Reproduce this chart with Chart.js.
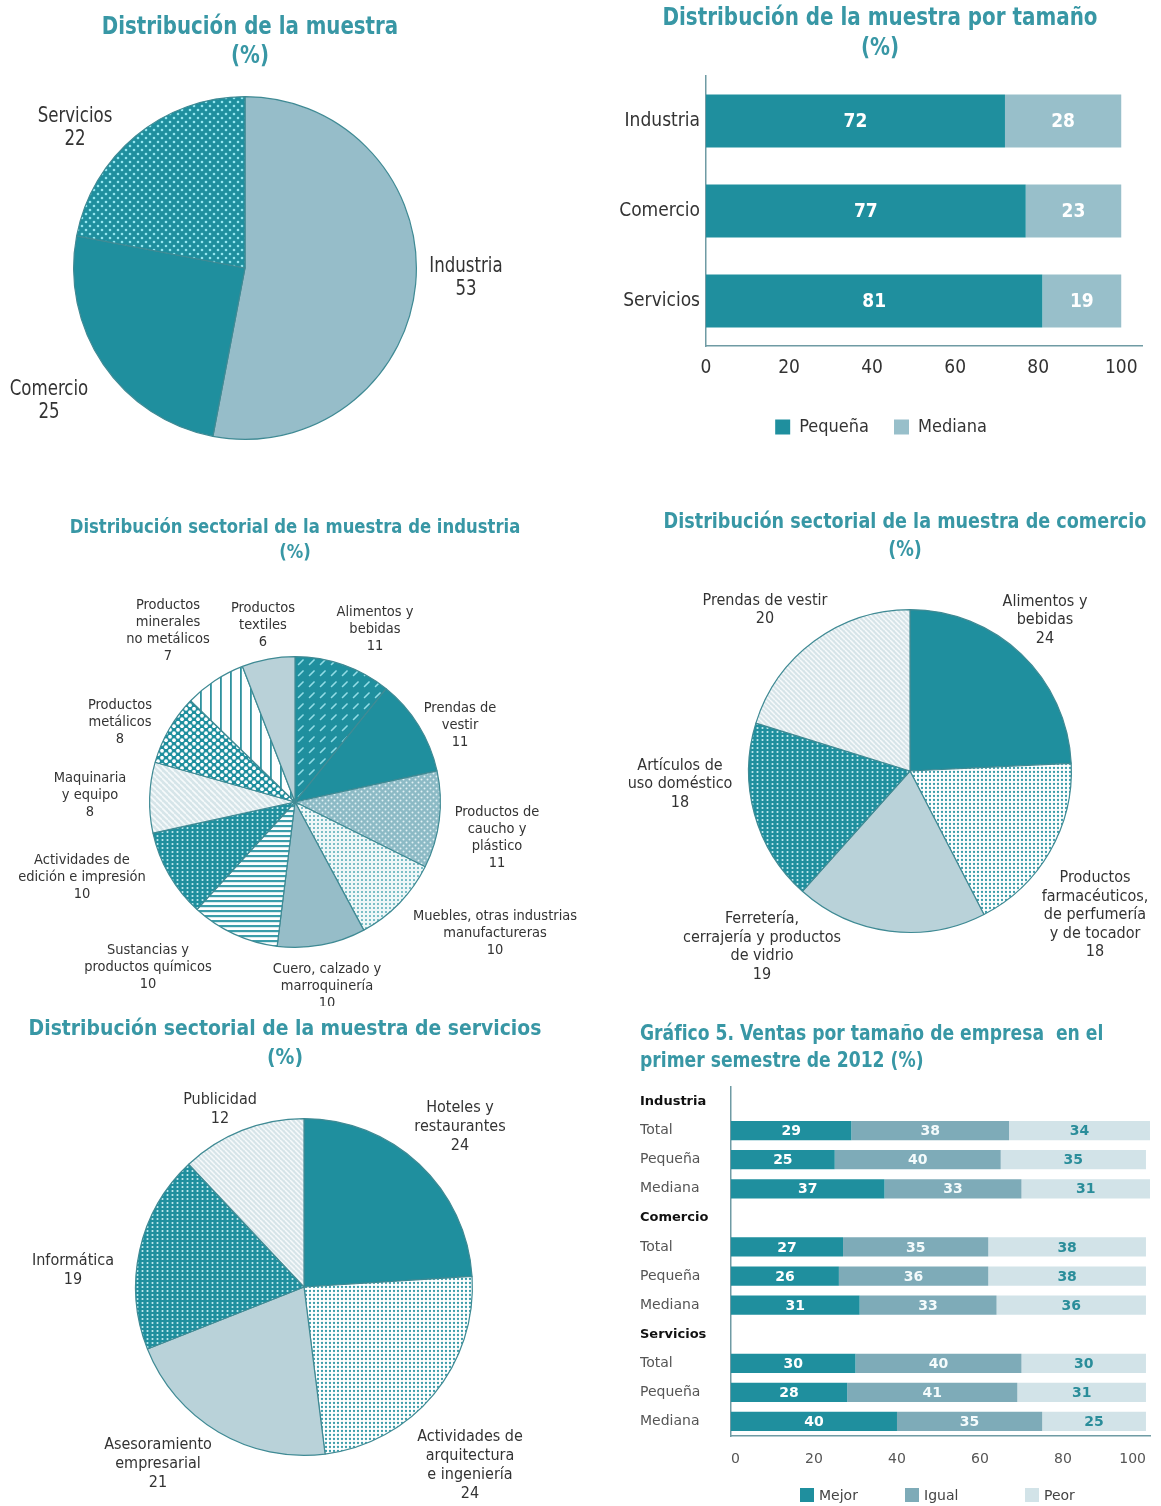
<!DOCTYPE html>
<html lang="es">
<head>
<meta charset="utf-8">
<title>Distribución de la muestra</title>
<script src="https://cdn.jsdelivr.net/npm/chart.js@4/dist/chart.umd.min.js"></script>
<style>
  html, body { margin: 0; padding: 0; background: #ffffff; }
  body { position: relative; width: 1161px; height: 1506px; overflow: hidden; }
  canvas { position: absolute; display: block; }
</style>
</head>
<body>
<canvas id="sample" width="580" height="480" style="left:0;top:0"></canvas>
<canvas id="bySize" width="600" height="460" style="left:600px;top:0"></canvas>
<canvas id="industry" width="590" height="516" style="left:0;top:490px"></canvas>
<canvas id="commerce" width="561" height="510" style="left:600px;top:490px"></canvas>
<canvas id="services" width="590" height="501" style="left:0;top:1005px"></canvas>
<canvas id="sales" width="561" height="510" style="left:600px;top:1005px"></canvas>
<script>
// ---- data ----
const sampleSectors = ['Industria', 'Comercio', 'Servicios'];
const sampleShares = [53, 25, 22];

const sizeSectors = ['Industria', 'Comercio', 'Servicios'];
const sizeSmall = [72, 77, 81];
const sizeMedium = [28, 23, 19];

const industryBranches = [
  'Alimentos y\nbebidas',
  'Prendas de\nvestir',
  'Productos de\ncaucho y\nplástico',
  'Muebles, otras industrias\nmanufactureras',
  'Cuero, calzado y\nmarroquinería',
  'Sustancias y\nproductos químicos',
  'Actividades de\nedición e impresión',
  'Maquinaria\ny equipo',
  'Productos\nmetálicos',
  'Productos\nminerales\nno metálicos',
  'Productos\ntextiles'
];
const industryShares = [11, 11, 11, 10, 10, 10, 10, 8, 8, 7, 6];

const commerceBranches = [
  'Alimentos y\nbebidas',
  'Productos\nfarmacéuticos,\nde perfumería\ny de tocador',
  'Ferretería,\ncerrajería y productos\nde vidrio',
  'Artículos de\nuso doméstico',
  'Prendas de vestir'
];
const commerceShares = [24, 18, 19, 18, 20];

const serviceBranches = [
  'Hoteles y\nrestaurantes',
  'Actividades de\narquitectura\ne ingeniería',
  'Asesoramiento\nempresarial',
  'Informática',
  'Publicidad'
];
const serviceShares = [24, 24, 21, 19, 12];

const salesRows = ['Industria', 'Total', 'Pequeña', 'Mediana',
                   'Comercio', 'Total', 'Pequeña', 'Mediana',
                   'Servicios', 'Total', 'Pequeña', 'Mediana'];
const salesBetter = [null, 29, 25, 37, null, 27, 26, 31, null, 30, 28, 40];
const salesSame   = [null, 38, 40, 33, null, 35, 36, 33, null, 40, 41, 35];
const salesWorse  = [null, 34, 35, 31, null, 38, 38, 36, null, 30, 31, 25];

// ---- look ----
const NARROW = '"Liberation Sans Narrow", "Arial Narrow", "DejaVu Sans Condensed", "Liberation Sans", sans-serif';
const WIDE = '"DejaVu Sans", Verdana, sans-serif';
const TEAL = '#1f8f9e';
const TITLE = '#3897a5';
const INK = '#333333';
const EDGE = '#3f8a94';
const AXIS = '#6f9ba4';

Chart.defaults.animation = false;
Chart.defaults.events = [];

function tile(w, h, paint) {
  const c = document.createElement('canvas');
  c.width = w; c.height = h;
  const g = c.getContext('2d');
  paint(g, w, h);
  return g.createPattern(c, 'repeat');
}
function dots(w, h, bg, ink, r, pts) {
  return tile(w, h, g => {
    g.fillStyle = bg; g.fillRect(0, 0, w, h);
    g.fillStyle = ink;
    pts.forEach(([x, y]) => { g.beginPath(); g.arc(x, y, r, 0, Math.PI * 2); g.fill(); });
  });
}
function hatch(s, bg, ink, lw) {          // "\" diagonal lines
  return tile(s, s, g => {
    g.fillStyle = bg; g.fillRect(0, 0, s, s);
    g.strokeStyle = ink; g.lineWidth = lw;
    for (let k = -1; k <= 1; k++) {
      g.beginPath(); g.moveTo(k * s, 0); g.lineTo(k * s + s, s); g.stroke();
    }
  });
}
function dashes(s, bg, ink, lw) {         // broken "/" lines
  return tile(s, s, g => {
    g.fillStyle = bg; g.fillRect(0, 0, s, s);
    g.strokeStyle = ink; g.lineWidth = lw; g.lineCap = 'round';
    g.beginPath(); g.moveTo(1.5, s - 1.5); g.lineTo(s * 0.55, s * 0.45); g.stroke();
  });
}
function rows(w, h, bg, ink, band) {      // horizontal stripes
  return tile(w, h, g => { g.fillStyle = bg; g.fillRect(0, 0, w, h); g.fillStyle = ink; g.fillRect(0, 0, w, band); });
}
function cols(w, h, bg, ink, band) {      // vertical stripes
  return tile(w, h, g => { g.fillStyle = bg; g.fillRect(0, 0, w, h); g.fillStyle = ink; g.fillRect(0, 0, band, h); });
}

const fill = {
  cyanDots: dots(8, 8, TEAL, '#93e6ef', 1.3, [[2, 2], [6, 6]]),
  slashes: dashes(11, TEAL, '#93dde6', 1.6),
  greyDots: dots(6, 6, '#8cbac5', '#e2f1f4', 1.0, [[1.5, 1.5], [4.5, 4.5]]),
  paleDots: dots(4, 4, '#eef7f8', '#4aa6b1', 0.95, [[2, 2]]),
  hStripes: rows(4, 5, '#ffffff', '#3b9daa', 2.2),
  tealFine: dots(5, 4, TEAL, '#c8eef2', 1.05, [[2.5, 2]]),
  greyHatch: hatch(6, '#d6e5e9', '#f6fafb', 1.6),
  polka: dots(8, 7, TEAL, '#ffffff', 1.9, [[2, 1.75], [6, 5.25]]),
  vStripes: cols(10, 4, '#ffffff', '#2f929f', 1.8),
  whiteFine: dots(4, 4, '#ffffff', '#3a9ca9', 1.15, [[2, 2]]),
  lightHatch: hatch(5, '#d6e4e8', '#f7fafb', 1.5)
};

// ---- plugins ----
// Title lines, squeezed horizontally by sx.
function heading(lines, x, y, size, lh, sx, align) {
  return {
    id: 'heading',
    afterDraw(chart) {
      const ctx = chart.ctx;
      ctx.save();
      ctx.font = `bold ${size}px ${NARROW}`;
      ctx.fillStyle = TITLE;
      ctx.textAlign = align || 'center';
      ctx.textBaseline = 'middle';
      lines.forEach((t, i) => {
        ctx.save();
        ctx.translate(x, y + i * lh);
        ctx.scale(sx, 1);
        ctx.fillText(t, 0, 0);
        ctx.restore();
      });
      ctx.restore();
    }
  };
}

// Name and value of each slice, placed at an offset from the pie centre.
function sliceCaptions(offsets, size, lh, sx) {
  return {
    id: 'sliceCaptions',
    afterDraw(chart) {
      const arcs = chart.getDatasetMeta(0).data;
      if (!arcs.length) return;
      const cx = arcs[0].x, cy = arcs[0].y;
      const values = chart.data.datasets[0].data;
      const ctx = chart.ctx;
      ctx.save();
      ctx.font = `${size}px ${NARROW}`;
      ctx.fillStyle = INK;
      ctx.textAlign = 'center';
      ctx.textBaseline = 'middle';
      chart.data.labels.forEach((name, i) => {
        const lines = name.split('\n').concat(String(values[i]));
        const [dx, dy] = offsets[i];
        const top = cy + dy - (lines.length - 1) * lh / 2;
        lines.forEach((t, k) => {
          ctx.save();
          ctx.translate(cx + dx, top + k * lh);
          ctx.scale(sx, 1);
          ctx.fillText(t, 0, 0);
          ctx.restore();
        });
      });
      ctx.restore();
    }
  };
}

// Value printed in the middle of every bar segment.
function valueLabels(colors, font) {
  return {
    id: 'valueLabels',
    afterDatasetsDraw(chart) {
      const ctx = chart.ctx;
      ctx.save();
      ctx.font = font;
      ctx.textAlign = 'center';
      ctx.textBaseline = 'middle';
      chart.data.datasets.forEach((ds, di) => {
        ctx.fillStyle = colors[di];
        chart.getDatasetMeta(di).data.forEach((bar, i) => {
          const v = ds.data[i];
          if (v == null) return;
          const p = bar.getCenterPoint();
          ctx.fillText(String(v), p.x, p.y + 1);
        });
      });
      ctx.restore();
    }
  };
}

// Widely spaced legend row built from the datasets.
function legendRow(xs, y, box, font, color) {
  return {
    id: 'legendRow',
    afterDraw(chart) {
      const ctx = chart.ctx;
      ctx.save();
      ctx.font = font;
      ctx.textAlign = 'left';
      ctx.textBaseline = 'middle';
      chart.data.datasets.forEach((ds, i) => {
        ctx.fillStyle = ds.backgroundColor;
        ctx.fillRect(xs[i], y - box / 2, box, box);
        ctx.fillStyle = color;
        ctx.fillText(ds.label, xs[i] + box + 5, y + 1);
      });
      ctx.restore();
    }
  };
}

function pie(id, labels, values, fills, padding, plugins) {
  return new Chart(document.getElementById(id), {
    type: 'pie',
    data: { labels, datasets: [{ data: values, backgroundColor: fills, borderColor: EDGE, borderWidth: 1.2 }] },
    options: {
      responsive: false,
      layout: { padding },
      plugins: { legend: { display: false }, tooltip: { enabled: false } }
    },
    plugins
  });
}

// ---- Distribución de la muestra ----
pie('sample', sampleSectors, sampleShares,
  ['#96bdc9', TEAL, fill.cyanDots],
  { left: 73, right: 163, top: 96, bottom: 40 },
  [heading(['Distribución de la muestra', '(%)'], 250, 27, 25, 29, 0.88),
   sliceCaptions([[221, 10], [-196, 133], [-170, -140]], 21, 23, 0.88)]);

// ---- Distribución de la muestra por tamaño ----
new Chart(document.getElementById('bySize'), {
  type: 'bar',
  data: {
    labels: sizeSectors,
    datasets: [
      { label: 'Pequeña', data: sizeSmall, backgroundColor: TEAL },
      { label: 'Mediana', data: sizeMedium, backgroundColor: '#98bfca' }
    ]
  },
  options: {
    indexAxis: 'y',
    responsive: false,
    layout: { padding: { left: 20, right: 58, top: 76, bottom: 14 } },
    datasets: { bar: { categoryPercentage: 0.59, barPercentage: 1 } },
    scales: {
      x: {
        stacked: true, min: 0, max: 105,
        grid: { display: false, drawTicks: false },
        border: { display: true, color: AXIS, width: 1.5 },
        ticks: { stepSize: 20, includeBounds: false, padding: 11, color: INK, font: { family: NARROW, size: 19 } },
        afterFit: s => { s.height = 47; }
      },
      y: {
        stacked: true,
        grid: { display: false, drawTicks: false },
        border: { display: true, color: AXIS, width: 1.5 },
        ticks: { padding: 6, color: INK, font: { family: NARROW, size: 19 } },
        afterFit: s => { s.width = 86; }
      }
    },
    plugins: {
      legend: {
        position: 'bottom',
        labels: { color: INK, font: { family: NARROW, size: 18 }, boxWidth: 15, boxHeight: 15, padding: 25 }
      },
      tooltip: { enabled: false }
    }
  },
  plugins: [
    heading(['Distribución de la muestra por tamaño', '(%)'], 280, 18, 25, 30, 0.886),
    valueLabels(['#ffffff', '#ffffff'], `bold 19px ${NARROW}`)
  ]
});

// ---- Distribución sectorial: industria ----
pie('industry', industryBranches, industryShares,
  [fill.slashes, TEAL, fill.greyDots, fill.paleDots, '#96bdc8', fill.hStripes,
   fill.tealFine, fill.greyHatch, fill.polka, fill.vStripes, '#b9d1d8'],
  { left: 149, right: 149, top: 166, bottom: 58 },
  [heading(['Distribución sectorial de la muestra de industria', '(%)'], 295, 38, 20, 25, 0.915),
   sliceCaptions([[80, -173], [165, -77], [202, 36], [200, 131], [32, 184], [-147, 165],
                  [-213, 75], [-205, -7], [-175, -80], [-127, -171], [-32, -177]], 14.5, 17, 1)]);

// ---- Distribución sectorial: comercio ----
pie('commerce', commerceBranches, commerceShares,
  [TEAL, fill.whiteFine, '#b9d2d9', fill.tealFine, fill.lightHatch],
  { left: 148, right: 89, top: 119, bottom: 67 },
  [heading(['Distribución sectorial de la muestra de comercio', '(%)'], 305, 32, 22, 28, 0.89),
   sliceCaptions([[135, -151], [185, 144], [-148, 176], [-230, 13], [-145, -161]], 16, 18.5, 1)]);

// ---- Distribución sectorial: servicios ----
pie('services', serviceBranches, serviceShares,
  [TEAL, fill.whiteFine, '#b9d2d9', fill.tealFine, fill.lightHatch],
  { left: 135, right: 117, top: 113, bottom: 50 },
  [heading(['Distribución sectorial de la muestra de servicios', '(%)'], 285, 24, 22, 29, 0.95),
   sliceCaptions([[156, -160], [166, 178], [-146, 177], [-231, -17], [-84, -178]], 16, 19, 1)]);

// ---- Gráfico 5: ventas por tamaño de empresa ----
const isGroup = i => salesBetter[i] == null;
new Chart(document.getElementById('sales'), {
  type: 'bar',
  data: {
    labels: salesRows,
    datasets: [
      { label: 'Mejor', data: salesBetter, backgroundColor: TEAL },
      { label: 'Igual', data: salesSame, backgroundColor: '#7eabb8' },
      { label: 'Peor', data: salesWorse, backgroundColor: '#d2e3e8' }
    ]
  },
  options: {
    indexAxis: 'y',
    responsive: false,
    layout: { padding: { left: 40, right: 4, top: 82, bottom: 39 } },
    datasets: { bar: { categoryPercentage: 0.66, barPercentage: 1 } },
    scales: {
      x: {
        stacked: true, min: 0, max: 101,
        grid: { display: false, drawTicks: false },
        border: { display: true, color: AXIS, width: 1.5 },
        ticks: { stepSize: 20, includeBounds: false, align: 'inner', padding: 15, color: '#555555',
                 font: { family: WIDE, size: 14 } },
        afterFit: s => { s.height = 40; }
      },
      y: {
        stacked: true,
        grid: { display: false, drawTicks: false },
        border: { display: true, color: AXIS, width: 1.5 },
        ticks: {
          crossAlign: 'far',
          color: c => isGroup(c.index) ? '#111111' : '#555555',
          font: c => ({ family: WIDE, size: isGroup(c.index) ? 13 : 14, weight: isGroup(c.index) ? 'bold' : 'normal' })
        },
        afterFit: s => { s.width = 91; }
      }
    },
    plugins: { legend: { display: false }, tooltip: { enabled: false } }
  },
  plugins: [
    heading(['Gráfico 5. Ventas por tamaño de empresa  en el', 'primer semestre de 2012 (%)'], 40, 30, 21, 27, 0.91, 'left'),
    valueLabels(['#ffffff', '#f4fbfc', '#2a8d9a'], `bold 14px ${WIDE}`),
    legendRow([200, 305, 425], 490, 14, `14px ${WIDE}`, '#444444')
  ]
});
</script>
</body>
</html>
